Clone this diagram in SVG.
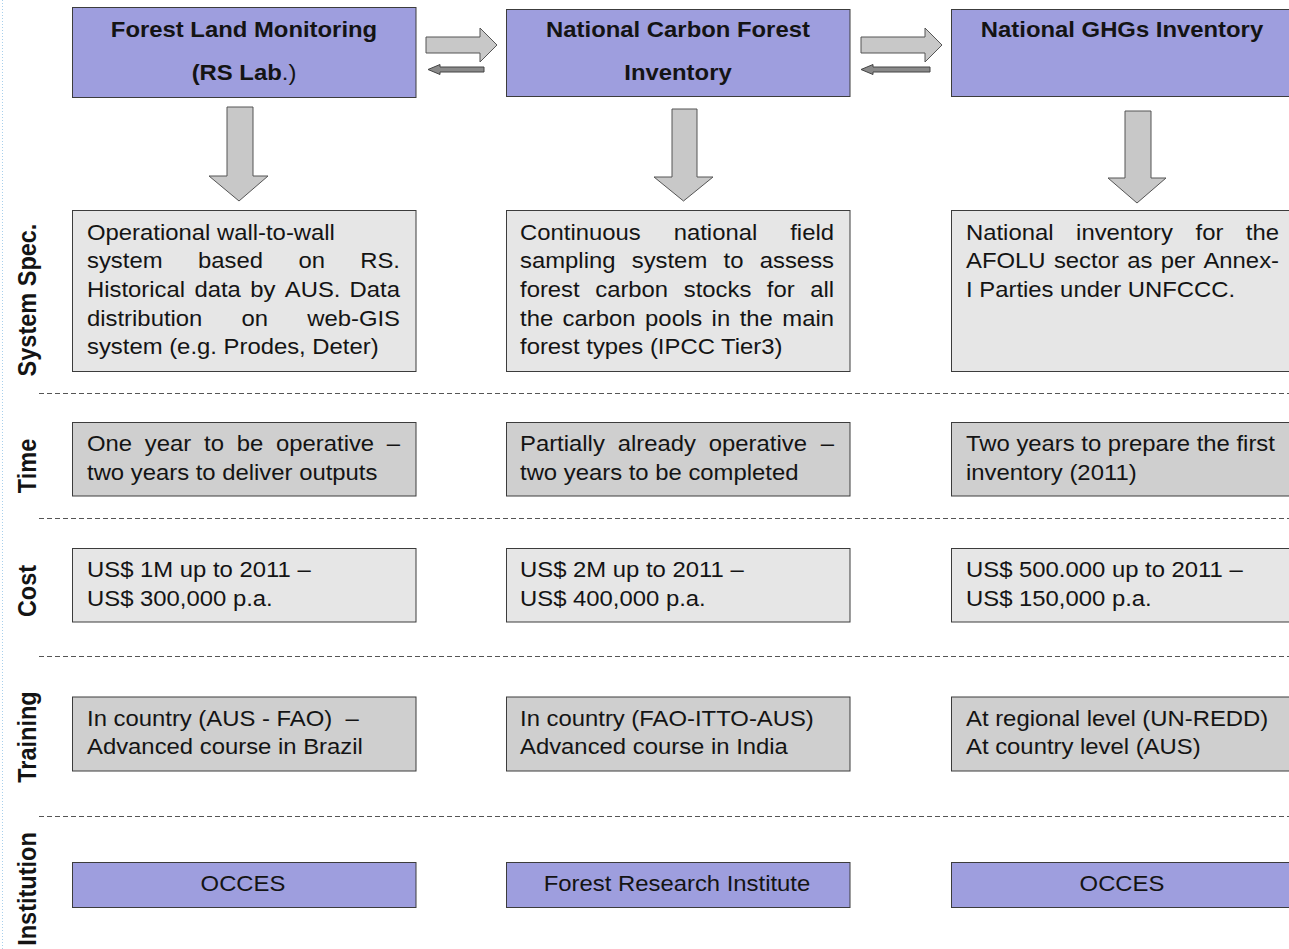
<svg xmlns="http://www.w3.org/2000/svg" width="1289" height="949" viewBox="0 0 1289 949">
<style>
.box{stroke:#3c3c3c;stroke-width:1}
.hdr{fill:#9e9ede}
.lt{fill:#e6e6e6}
.dk{fill:#cfcfcf}
.t{font-family:"Liberation Sans",Arial,sans-serif;font-size:21.5px;fill:#141414}
.b{font-weight:bold}
.e{text-anchor:end}
.m{text-anchor:middle}
.lbl{font-family:"Liberation Sans",Arial,sans-serif;font-size:23.5px;font-weight:bold;fill:#141414;text-anchor:middle}
.dash{stroke:#555;stroke-width:1;stroke-dasharray:5 3;fill:none}
.big{fill:#c8c8c8;stroke:#555;stroke-width:1}
.small{fill:#8a8a8a;stroke:#444;stroke-width:1}
</style>
<rect width="1289" height="949" fill="#fff"/>
<line x1="2.5" y1="0" x2="2.5" y2="949" stroke="#a8d0ec" stroke-width="1" stroke-dasharray="1 2"/>

<g id="row-labels">
<text class="lbl" transform="translate(36,300) scale(1.135,1) rotate(-90)">System Spec.</text>
<text class="lbl" transform="translate(36,466) scale(1.135,1) rotate(-90)">Time</text>
<text class="lbl" transform="translate(36,591) scale(1.135,1) rotate(-90)">Cost</text>
<text class="lbl" transform="translate(36,737) scale(1.135,1) rotate(-90)">Training</text>
<text class="lbl" transform="translate(36,889) scale(1.135,1) rotate(-90)">Institution</text>
</g>

<g id="separators">
<line class="dash" x1="39" y1="393.5" x2="1289" y2="393.5"/>
<line class="dash" x1="39" y1="518.5" x2="1289" y2="518.5"/>
<line class="dash" x1="39" y1="656.5" x2="1289" y2="656.5"/>
<line class="dash" x1="39" y1="816.5" x2="1289" y2="816.5"/>
</g>

<g id="connectors">
<path class="big" d="M426,37 H480 V28 L497,45 L480,62 V53 H426 Z"/>
<path class="small" d="M484,67 H440 V64.5 L428,69.5 L440,74.5 V72 H484 Z"/>
<path class="big" d="M861,37 H925 V28 L942,45 L925,62 V53 H861 Z"/>
<path class="small" d="M930,67 H873 V64.5 L861,69.5 L873,74.5 V72 H930 Z"/>
<path class="big" d="M227,107 H253 V176 H268 L239,201 L209,176 H227 Z"/>
<path class="big" d="M672,109 H697 V177 H713 L683.5,201 L654,177 H672 Z"/>
<path class="big" d="M1125,111 H1151 V178 H1166 L1137,203 L1108,178 H1125 Z"/>
</g>

<g id="hdr-forest-land-monitoring">
<rect class="box hdr" x="72.5" y="7.5" width="343.5" height="90"/>
<text class="t b m" transform="translate(244,37) scale(1.11,1)">Forest Land Monitoring</text>
<text class="t b m" transform="translate(244,80) scale(1.11,1)">(RS Lab<tspan font-weight="normal">.)</tspan></text>
</g>

<g id="hdr-national-carbon-forest-inventory">
<rect class="box hdr" x="506.5" y="9.5" width="343.5" height="87"/>
<text class="t b m" transform="translate(678,37) scale(1.11,1)">National Carbon Forest</text>
<text class="t b m" transform="translate(678,80) scale(1.11,1)">Inventory</text>
</g>

<g id="hdr-national-ghgs-inventory">
<rect class="box hdr" x="951.5" y="9.5" width="344" height="87"/>
<text class="t b m" transform="translate(1122,37) scale(1.11,1)">National GHGs Inventory</text>
</g>

<g id="spec-1">
<rect class="box lt" x="72.5" y="210.5" width="343.5" height="161"/>
<text class="t" transform="translate(87,239.5) scale(1.11,1)">Operational wall-to-wall</text>
<text class="t" transform="translate(87,268.2) scale(1.11,1)">system</text>
<text class="t" transform="translate(198,268.2) scale(1.11,1)">based</text>
<text class="t" transform="translate(298.4,268.2) scale(1.11,1)">on</text>
<text class="t e" transform="translate(400,268.2) scale(1.11,1)">RS.</text>
<text class="t" transform="translate(87,296.9) scale(1.11,1)">Historical</text>
<text class="t" transform="translate(194.4,296.9) scale(1.11,1)">data</text>
<text class="t" transform="translate(250.2,296.9) scale(1.11,1)">by</text>
<text class="t" transform="translate(284.8,296.9) scale(1.11,1)">AUS.</text>
<text class="t e" transform="translate(400,296.9) scale(1.11,1)">Data</text>
<text class="t" transform="translate(87,325.6) scale(1.11,1)">distribution</text>
<text class="t" transform="translate(241.5,325.6) scale(1.11,1)">on</text>
<text class="t e" transform="translate(400,325.6) scale(1.11,1)">web-GIS</text>
<text class="t" transform="translate(87,354.3) scale(1.11,1)">system (e.g. Prodes, Deter)</text>
</g>

<g id="spec-2">
<rect class="box lt" x="506.5" y="210.5" width="343.5" height="161"/>
<text class="t" transform="translate(520,239.5) scale(1.11,1)">Continuous</text>
<text class="t" transform="translate(673.7,239.5) scale(1.11,1)">national</text>
<text class="t e" transform="translate(834,239.5) scale(1.11,1)">field</text>
<text class="t" transform="translate(520,268.2) scale(1.11,1)">sampling</text>
<text class="t" transform="translate(631.7,268.2) scale(1.11,1)">system</text>
<text class="t" transform="translate(723.5,268.2) scale(1.11,1)">to</text>
<text class="t e" transform="translate(834,268.2) scale(1.11,1)">assess</text>
<text class="t" transform="translate(520,296.9) scale(1.11,1)">forest</text>
<text class="t" transform="translate(595.2,296.9) scale(1.11,1)">carbon</text>
<text class="t" transform="translate(683.7,296.9) scale(1.11,1)">stocks</text>
<text class="t" transform="translate(766.8,296.9) scale(1.11,1)">for</text>
<text class="t e" transform="translate(834,296.9) scale(1.11,1)">all</text>
<text class="t" transform="translate(520,325.6) scale(1.11,1)">the</text>
<text class="t" transform="translate(562.6,325.6) scale(1.11,1)">carbon</text>
<text class="t" transform="translate(645.1,325.6) scale(1.11,1)">pools</text>
<text class="t" transform="translate(711.6,325.6) scale(1.11,1)">in</text>
<text class="t" transform="translate(739.7,325.6) scale(1.11,1)">the</text>
<text class="t e" transform="translate(834,325.6) scale(1.11,1)">main</text>
<text class="t" transform="translate(520,354.3) scale(1.11,1)">forest types (IPCC Tier3)</text>
</g>

<g id="spec-3">
<rect class="box lt" x="951.5" y="210.5" width="344" height="161"/>
<text class="t" transform="translate(966,239.5) scale(1.11,1)">National</text>
<text class="t" transform="translate(1076.1,239.5) scale(1.11,1)">inventory</text>
<text class="t" transform="translate(1195.5,239.5) scale(1.11,1)">for</text>
<text class="t e" transform="translate(1279,239.5) scale(1.11,1)">the</text>
<text class="t" transform="translate(966,268.2) scale(1.11,1)">AFOLU</text>
<text class="t" transform="translate(1053.9,268.2) scale(1.11,1)">sector</text>
<text class="t" transform="translate(1127.2,268.2) scale(1.11,1)">as</text>
<text class="t" transform="translate(1160.8,268.2) scale(1.11,1)">per</text>
<text class="t e" transform="translate(1279,268.2) scale(1.11,1)">Annex-</text>
<text class="t" transform="translate(966,296.9) scale(1.11,1)">I Parties under UNFCCC.</text>
</g>

<g id="time-1">
<rect class="box dk" x="72.5" y="422.5" width="343.5" height="73.5"/>
<text class="t" transform="translate(87,451.2) scale(1.11,1)">One</text>
<text class="t" transform="translate(144.8,451.2) scale(1.11,1)">year</text>
<text class="t" transform="translate(204,451.2) scale(1.11,1)">to</text>
<text class="t" transform="translate(236.7,451.2) scale(1.11,1)">be</text>
<text class="t" transform="translate(276,451.2) scale(1.11,1)">operative</text>
<text class="t e" transform="translate(400,451.2) scale(1.11,1)">–</text>
<text class="t" transform="translate(87,479.8) scale(1.11,1)">two years to deliver outputs</text>
</g>

<g id="time-2">
<rect class="box dk" x="506.5" y="422.5" width="343.5" height="73.5"/>
<text class="t" transform="translate(520,451.2) scale(1.11,1)">Partially</text>
<text class="t" transform="translate(617.7,451.2) scale(1.11,1)">already</text>
<text class="t" transform="translate(708.8,451.2) scale(1.11,1)">operative</text>
<text class="t e" transform="translate(834,451.2) scale(1.11,1)">–</text>
<text class="t" transform="translate(520,479.8) scale(1.11,1)">two years to be completed</text>
</g>

<g id="time-3">
<rect class="box dk" x="951.5" y="422.5" width="344" height="73.5"/>
<text class="t" transform="translate(966,451.2) scale(1.11,1)">Two years to prepare the first</text>
<text class="t" transform="translate(966,479.8) scale(1.11,1)">inventory (2011)</text>
</g>

<g id="cost-1">
<rect class="box lt" x="72.5" y="548.5" width="343.5" height="73.5"/>
<text class="t" transform="translate(87,576.8) scale(1.11,1)">US$ 1M up to 2011 –</text>
<text class="t" transform="translate(87,605.5) scale(1.11,1)">US$ 300,000 p.a.</text>
</g>

<g id="cost-2">
<rect class="box lt" x="506.5" y="548.5" width="343.5" height="73.5"/>
<text class="t" transform="translate(520,576.8) scale(1.11,1)">US$ 2M up to 2011 –</text>
<text class="t" transform="translate(520,605.5) scale(1.11,1)">US$ 400,000 p.a.</text>
</g>

<g id="cost-3">
<rect class="box lt" x="951.5" y="548.5" width="344" height="73.5"/>
<text class="t" transform="translate(966,576.8) scale(1.11,1)">US$ 500.000 up to 2011 –</text>
<text class="t" transform="translate(966,605.5) scale(1.11,1)">US$ 150,000 p.a.</text>
</g>

<g id="training-1">
<rect class="box dk" x="72.5" y="697" width="343.5" height="74"/>
<text class="t" transform="translate(87,725.7) scale(1.11,1)" xml:space="preserve">In country (AUS - FAO)  –</text>
<text class="t" transform="translate(87,754.4) scale(1.11,1)">Advanced course in Brazil</text>
</g>

<g id="training-2">
<rect class="box dk" x="506.5" y="697" width="343.5" height="74"/>
<text class="t" transform="translate(520,725.7) scale(1.11,1)">In country (FAO-ITTO-AUS)</text>
<text class="t" transform="translate(520,754.4) scale(1.11,1)">Advanced course in India</text>
</g>

<g id="training-3">
<rect class="box dk" x="951.5" y="697" width="344" height="74"/>
<text class="t" transform="translate(966,725.7) scale(1.11,1)">At regional level (UN-REDD)</text>
<text class="t" transform="translate(966,754.4) scale(1.11,1)">At country level (AUS)</text>
</g>

<g id="institution-1">
<rect class="box hdr" x="72.5" y="862.5" width="343.5" height="45"/>
<text class="t m" transform="translate(243,891) scale(1.11,1)">OCCES</text>
</g>

<g id="institution-2">
<rect class="box hdr" x="506.5" y="862.5" width="343.5" height="45"/>
<text class="t m" transform="translate(677,891) scale(1.11,1)">Forest Research Institute</text>
</g>

<g id="institution-3">
<rect class="box hdr" x="951.5" y="862.5" width="344" height="45"/>
<text class="t m" transform="translate(1122,891) scale(1.11,1)">OCCES</text>
</g>
</svg>
